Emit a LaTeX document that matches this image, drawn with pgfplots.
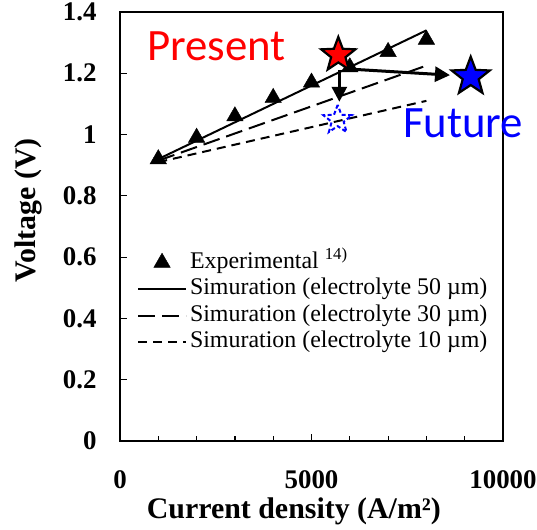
\documentclass[border=0pt]{standalone}
\usepackage{fontspec}
\setmainfont{Liberation Serif}
\newfontfamily\calibri{Carlito}
\usepackage{pgfplots}
\pgfplotsset{compat=1.18}
\usetikzlibrary{arrows.meta}

% five-pointed star, filled and outlined
\pgfdeclareplotmark{fstar}{%
  \pgfpathmoveto{\pgfpointpolar{90}{\pgfplotmarksize}}%
  \pgfpathlineto{\pgfpointpolar{126}{0.42\pgfplotmarksize}}%
  \pgfpathlineto{\pgfpointpolar{162}{\pgfplotmarksize}}%
  \pgfpathlineto{\pgfpointpolar{198}{0.42\pgfplotmarksize}}%
  \pgfpathlineto{\pgfpointpolar{234}{\pgfplotmarksize}}%
  \pgfpathlineto{\pgfpointpolar{270}{0.42\pgfplotmarksize}}%
  \pgfpathlineto{\pgfpointpolar{306}{\pgfplotmarksize}}%
  \pgfpathlineto{\pgfpointpolar{342}{0.42\pgfplotmarksize}}%
  \pgfpathlineto{\pgfpointpolar{18}{\pgfplotmarksize}}%
  \pgfpathlineto{\pgfpointpolar{54}{0.42\pgfplotmarksize}}%
  \pgfpathclose
  \pgfusepathqfillstroke
}
% same star, outline only
\pgfdeclareplotmark{ostar}{%
  \pgfpathmoveto{\pgfpointpolar{90}{\pgfplotmarksize}}%
  \pgfpathlineto{\pgfpointpolar{126}{0.42\pgfplotmarksize}}%
  \pgfpathlineto{\pgfpointpolar{162}{\pgfplotmarksize}}%
  \pgfpathlineto{\pgfpointpolar{198}{0.42\pgfplotmarksize}}%
  \pgfpathlineto{\pgfpointpolar{234}{\pgfplotmarksize}}%
  \pgfpathlineto{\pgfpointpolar{270}{0.42\pgfplotmarksize}}%
  \pgfpathlineto{\pgfpointpolar{306}{\pgfplotmarksize}}%
  \pgfpathlineto{\pgfpointpolar{342}{0.42\pgfplotmarksize}}%
  \pgfpathlineto{\pgfpointpolar{18}{\pgfplotmarksize}}%
  \pgfpathlineto{\pgfpointpolar{54}{0.42\pgfplotmarksize}}%
  \pgfpathclose
  \pgfusepathqstroke
}

\begin{document}
\begin{tikzpicture}
\begin{axis}[
    scale only axis,
    width=383bp, height=429bp,
    xmin=0, xmax=10000, ymin=0, ymax=1.4,
    xtick={0,5000,10000},
    minor xtick={1000,2000,3000,4000,6000,7000,8000,9000},
    ytick={0,0.2,0.4,0.6,0.8,1,1.2,1.4},
    xtick pos=bottom, ytick pos=left, tick align=inside,
    major tick length=7bp, minor tick length=5bp,
    tick style={black, line width=1.2bp},
    axis line style={line width=1.8bp},
    scaled x ticks=false,
    /pgf/number format/1000 sep={},
    /pgf/number format/assume math mode=true,
    tick label style={font=\bfseries\fontsize{27}{30}\selectfont},
    yticklabel style={xshift=-20bp},
    xticklabel style={yshift=-26bp},
    xlabel={Current density (A/m²)},
    ylabel={Voltage (V)},
    label style={font=\bfseries\fontsize{30}{34}\selectfont},
    xlabel style={at={(axis description cs:0.454,-0.163)}, anchor=center},
    ylabel style={at={(axis description cs:-0.238,0.538)}, anchor=center},
    legend style={draw=none, fill=none, at={(axis description cs:0.044,0.443)},
        anchor=north west, inner sep=0pt, row sep=3.5bp,
        font=\fontsize{24}{28}\selectfont,
        nodes={inner sep=0pt, text height=17bp, text depth=6bp},
        /tikz/every odd column/.style={column sep=3bp}},
    legend cell align=left,
    legend image code/.code={\draw[mark repeat=2,mark phase=2,#1]
        plot coordinates {(0bp,0bp) (24bp,0bp) (48bp,0bp)};},
    clip=false,
]
\addplot[only marks, mark=triangle*, mark size=9.5bp, black] coordinates {
    (1000,0.92) (2000,0.99) (3000,1.06) (4000,1.12)
    (5000,1.17) (6000,1.22) (7000,1.27) (8000,1.31)
};
\addlegendentry{Experimental \textsuperscript{14)}}
\addplot[black, line width=2bp] coordinates {(1000,0.92) (8000,1.34)};
\addlegendentry{Simuration (electrolyte 50 µm)}
\addplot[black, line width=2bp, dash pattern=on 17bp off 7bp] coordinates {(1000,0.915) (8000,1.225)};
\addlegendentry{Simuration (electrolyte 30 µm)}
\addplot[black, line width=2bp, dash pattern=on 9bp off 6bp] coordinates {(1000,0.91) (8000,1.11)};
\addlegendentry{Simuration (electrolyte 10 µm)}

% arrows from the present point
\addplot[forget plot, black, line width=3bp, -{Triangle[length=15bp,width=15bp]}]
    coordinates {(5727,1.211) (5727,1.107)};
\addplot[forget plot, black, line width=3bp, -{Triangle[length=15bp,width=15bp]}]
    coordinates {(6092,1.213) (8616,1.194)};

% stars
\addplot[forget plot, only marks, mark=fstar, mark size=18bp,
    mark options={fill=red, draw=black, line width=2.2bp}] coordinates {(5700,1.26)};
\addplot[forget plot, only marks, mark=fstar, mark size=20bp,
    mark options={fill=blue, draw=black, line width=2.2bp}] coordinates {(9157,1.189)};
\addplot[forget plot, only marks, mark=ostar, mark size=15bp,
    mark options={draw=blue, line width=2bp, dash pattern=on 4bp off 2.5bp}] coordinates {(5684,1.048)};

\node[anchor=base west, inner sep=0pt, text=red, font=\calibri\fontsize{45}{50}\selectfont]
    at (axis cs:705,1.243) {Present};
\node[anchor=base west, inner sep=0pt, text=blue, font=\calibri\fontsize{45}{50}\selectfont]
    at (axis cs:7389,0.992) {Future};
\end{axis}
\pgfresetboundingbox
\path[use as bounding box] (-120bp,-89bp) rectangle (417bp,441bp);
\end{tikzpicture}
\end{document}
